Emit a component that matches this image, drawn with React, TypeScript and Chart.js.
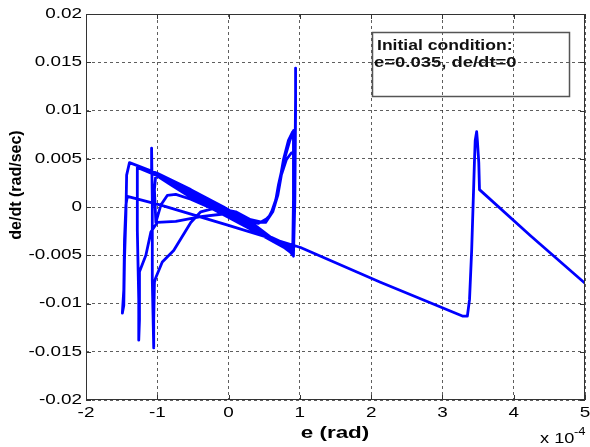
import React, { useEffect, useRef } from 'react';
import { Chart, registerables } from 'chart.js';

Chart.register(...registerables);

// Axis ticks
const X_TICKS = [-2, -1, 0, 1, 2, 3, 4, 5];
const X_TICK_LABELS = ['-2', '-1', '0', '1', '2', '3', '4', '5'];
const Y_TICKS = [-0.02, -0.015, -0.01, -0.005, 0, 0.005, 0.01, 0.015, 0.02];
const Y_TICK_LABELS = ['-0.02', '-0.015', '-0.01', '-0.005', '0', '0.005', '0.01', '0.015', '0.02'];

// Trajectory pieces: e in units of 1e-4 rad, de/dt in rad/sec
const tailE = [5.0, 4.24, 3.52, 3.51, 3.49, 3.48, 3.46, 3.45, 3.44, 3.41, 3.38, 3.35, 3.28, 2.13, 1.01, 0.0, -0.95, -1.42];
const tailDe = [-0.0079, -0.003, 0.0018, 0.0046, 0.0069, 0.0078, 0.0069, 0.0049, 0.0025, -0.0045, -0.0096, -0.0113, -0.0113, -0.0078, -0.0042, -0.0019, 0.0002, 0.0011];

const loop1E = [-1.44, -1.46, -1.47, -1.49, -1.47, -1.46, -1.44, -1.43, -1.39, -1.0, -0.53, -0.07, 0.41, 0.87, 0.91, 0.93, 0.94, 0.94, 0.94, 0.93, 0.91];
const loop1De = [0.0002, -0.0034, -0.0086, -0.011, -0.0102, -0.0055, -0.0008, 0.0033, 0.0046, 0.0035, 0.0018, 0.0, -0.0021, -0.0047, -0.0051, 0.0007, 0.01, 0.0144, 0.0116, 0.0028, -0.0042];

const loop2E = [0.41, -0.07, -0.53, -0.95, -1.28, -1.28, -1.26, -1.26, -1.25, -1.25, -1.16, -1.09, -1.0, -0.74, -0.39, -0.04, 0.31, 0.48, 0.59, 0.66, 0.72, 0.77, 0.84, 0.9, 0.93, 0.93, 0.91, 0.9];
const loop2De = [-0.0025, -0.0005, 0.0013, 0.0031, 0.0041, -0.0024, -0.0096, -0.0138, -0.0117, -0.0067, -0.005, -0.0026, -0.0016, -0.0015, -0.001, -0.0007, -0.0013, -0.0016, -0.0008, 0.0007, 0.0028, 0.0049, 0.0069, 0.0078, 0.008, 0.0028, -0.0039, -0.0047];

const loop3E = [0.41, -0.07, -0.53, -0.81, -1.08, -1.08, -1.07, -1.07, -1.05, -1.05, -1.04, -1.02, -0.93, -0.77, -0.53, -0.39, -0.18, 0.1, 0.38, 0.52, 0.62, 0.69, 0.74, 0.81, 0.88, 0.91, 0.91, 0.9];
const loop3De = [-0.0027, -0.0008, 0.001, 0.0023, 0.0036, 0.0061, 0.0007, -0.0076, -0.0146, -0.0117, -0.0078, -0.0073, -0.0057, -0.0045, -0.0016, -0.0005, -0.0001, -0.0005, -0.0016, -0.0016, -0.0005, 0.0012, 0.0033, 0.0049, 0.0056, 0.0057, 0.0007, -0.0045];

const loop4E = [0.41, -0.07, -0.53, -1.02, -1.04, -1.02, -0.95, -0.86, -0.74, -0.53, -0.25, 0.03, 0.31, 0.42, 0.56, 0.65, 0.7, 0.77, 0.86, 0.91, 0.91, 0.9];
const loop4De = [-0.0024, -0.0003, 0.0016, 0.0034, 0.0018, -0.0016, 0.0002, 0.0012, 0.0013, 0.0008, -0.0001, -0.0009, -0.0016, -0.0017, -0.0011, 0.0002, 0.0023, 0.0046, 0.0069, 0.0079, 0.0007, -0.005];

const NOTE_LINES = ['Initial condition:', 'e=0.035, de/dt=0'];

const FONT = '"Liberation Sans", Arial, Helvetica, sans-serif';

function buildPoints() {
  const pieces: [number[], number[]][] = [
    [tailE, tailDe],
    [loop1E, loop1De],
    [loop2E, loop2De],
    [loop3E, loop3De],
    [loop4E, loop4De],
  ];
  const pts: { x: number; y: number }[] = [];
  pieces.forEach(([xs, ys]) => {
    xs.forEach((x, i) => pts.push({ x, y: ys[i] }));
  });
  return pts;
}

function stretchText(ctx: CanvasRenderingContext2D, text: string, x: number, y: number, sx: number) {
  ctx.save();
  ctx.translate(x, y);
  ctx.scale(sx, 1);
  ctx.fillText(text, 0, 0);
  ctx.restore();
}

const overlayPlugin = {
  id: 'overlay',
  afterDraw(chart: any) {
    const { ctx, chartArea: a, scales } = chart;
    const xs = scales.x;
    const ys = scales.y;
    ctx.save();

    // inward tick marks
    ctx.strokeStyle = '#333';
    ctx.lineWidth = 1;
    ctx.beginPath();
    X_TICKS.forEach((v) => {
      const px = Math.round(xs.getPixelForValue(v)) + 0.5;
      ctx.moveTo(px, a.bottom);
      ctx.lineTo(px, a.bottom - 5);
      ctx.moveTo(px, a.top);
      ctx.lineTo(px, a.top + 5);
    });
    Y_TICKS.forEach((v) => {
      const py = Math.round(ys.getPixelForValue(v)) + 0.5;
      ctx.moveTo(a.left, py);
      ctx.lineTo(a.left + 5, py);
      ctx.moveTo(a.right, py);
      ctx.lineTo(a.right - 5, py);
    });
    ctx.stroke();

    // box
    ctx.strokeStyle = '#333';
    ctx.lineWidth = 1;
    ctx.strokeRect(a.left + 0.5, a.top + 0.5, a.right - a.left - 1, a.bottom - a.top - 1);

    // tick labels
    ctx.fillStyle = '#000';
    ctx.font = `14px ${FONT}`;
    ctx.textAlign = 'right';
    ctx.textBaseline = 'middle';
    Y_TICKS.forEach((v, i) => {
      stretchText(ctx, Y_TICK_LABELS[i], a.left - 4, ys.getPixelForValue(v), 1.35);
    });
    ctx.textAlign = 'center';
    X_TICKS.forEach((v, i) => {
      stretchText(ctx, X_TICK_LABELS[i], xs.getPixelForValue(v), a.bottom + 13, 1.35);
    });

    // axis titles
    ctx.font = `bold 17px ${FONT}`;
    ctx.textAlign = 'center';
    ctx.textBaseline = 'middle';
    stretchText(ctx, 'e (rad)', 335, 433, 1.32);

    ctx.save();
    ctx.translate(17, 185);
    ctx.rotate(-Math.PI / 2);
    ctx.font = `bold 16px ${FONT}`;
    ctx.fillText('de/dt (rad/sec)', 0, 0);
    ctx.restore();

    // exponent label
    ctx.textAlign = 'left';
    ctx.textBaseline = 'alphabetic';
    ctx.font = `14px ${FONT}`;
    stretchText(ctx, 'x 10', 540, 443, 1.3);
    ctx.font = `10px ${FONT}`;
    stretchText(ctx, '-4', 574, 435, 1.3);

    // annotation box
    ctx.strokeStyle = '#555';
    ctx.lineWidth = 1.5;
    ctx.strokeRect(372.5, 32.5, 197, 64);
    ctx.fillStyle = '#111';
    ctx.font = `bold 15px ${FONT}`;
    stretchText(ctx, NOTE_LINES[0], 377, 50, 1.17);
    stretchText(ctx, NOTE_LINES[1], 374, 67, 1.23);

    ctx.restore();
  },
};

export default function App() {
  const ref = useRef<HTMLCanvasElement | null>(null);

  useEffect(() => {
    document.body.style.margin = '0';
    const canvas = ref.current;
    if (!canvas) return;
    const chart = new Chart(canvas, {
      type: 'scatter',
      data: {
        datasets: [
          {
            data: buildPoints(),
            showLine: true,
            borderColor: '#0000ff',
            backgroundColor: '#0000ff',
            borderWidth: 2.8,
            pointRadius: 0,
            tension: 0,
            borderJoinStyle: 'round',
            borderCapStyle: 'round',
          } as any,
        ],
      },
      options: {
        responsive: false,
        animation: false,
        devicePixelRatio: 1,
        layout: { padding: { top: 14, right: 5, left: 0, bottom: 0 } },
        plugins: {
          legend: { display: false },
          tooltip: { enabled: false },
        },
        scales: {
          x: {
            type: 'linear',
            min: -2,
            max: 5,
            afterFit: (s: any) => {
              s.height = 47;
            },
            afterBuildTicks: (s: any) => {
              s.ticks = X_TICKS.map((v) => ({ value: v }));
            },
            ticks: { display: false },
            grid: { color: 'rgba(40,40,40,0.75)', lineWidth: 1, drawTicks: false },
            border: { display: false, dash: [3, 3] },
          },
          y: {
            type: 'linear',
            min: -0.02,
            max: 0.02,
            afterFit: (s: any) => {
              s.width = 86;
            },
            afterBuildTicks: (s: any) => {
              s.ticks = Y_TICKS.map((v) => ({ value: v }));
            },
            ticks: { display: false },
            grid: { color: 'rgba(40,40,40,0.75)', lineWidth: 1, drawTicks: false },
            border: { display: false, dash: [3, 3] },
          },
        },
      } as any,
      plugins: [overlayPlugin],
    });
    return () => chart.destroy();
  }, []);

  return (
    <div style={{ width: 590, height: 447 }}>
      <canvas ref={ref} width={590} height={447} />
    </div>
  );
}
